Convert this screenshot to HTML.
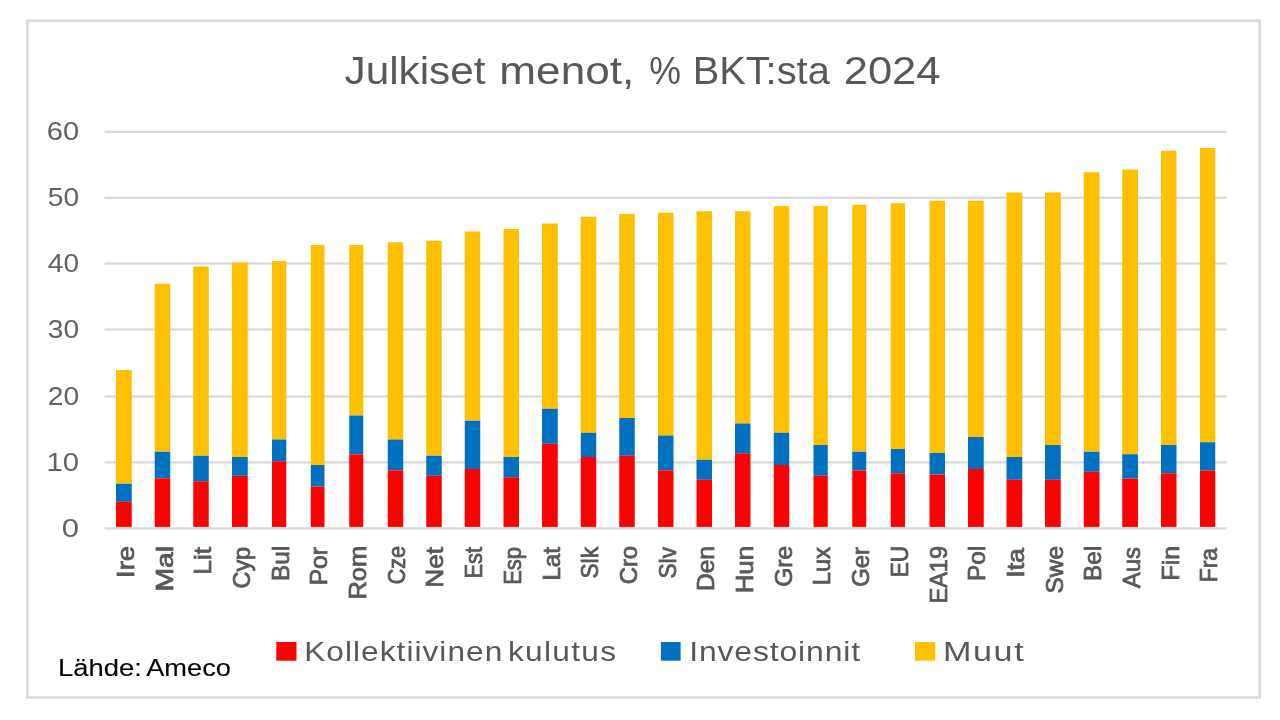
<!DOCTYPE html>
<html lang="fi"><head><meta charset="utf-8"><title>Julkiset menot, % BKT:sta 2024</title>
<style>html,body{margin:0;padding:0;background:#fff;width:1280px;height:720px;overflow:hidden}svg{display:block}text{font-family:"Liberation Sans",sans-serif}</style>
</head><body>
<svg width="1280" height="720" viewBox="0 0 1280 720">
<defs><filter id="soft" x="0" y="0" width="1280" height="720" filterUnits="userSpaceOnUse"><feGaussianBlur stdDeviation="0.55"/></filter></defs>
<rect x="0" y="0" width="1280" height="720" fill="#fff"/>
<g filter="url(#soft)">
<rect x="27.4" y="20.7" width="1232.3" height="676.8" fill="none" stroke="#D9D9D9" stroke-width="2.5"/>
<rect x="104.6" y="527.25" width="1122.2" height="2.3" fill="#D9D9D9"/>
<rect x="104.6" y="461.25" width="1122.2" height="2.3" fill="#D9D9D9"/>
<rect x="104.6" y="395.35" width="1122.2" height="2.3" fill="#D9D9D9"/>
<rect x="104.6" y="328.35" width="1122.2" height="2.3" fill="#D9D9D9"/>
<rect x="104.6" y="262.35" width="1122.2" height="2.3" fill="#D9D9D9"/>
<rect x="104.6" y="196.60" width="1122.2" height="2.3" fill="#D9D9D9"/>
<rect x="104.6" y="130.70" width="1122.2" height="2.3" fill="#D9D9D9"/>
<rect x="116.0" y="370.0" width="15.75" height="113.75" fill="#FFC000"/>
<rect x="116.0" y="483.75" width="15.75" height="18.00" fill="#0070C0"/>
<rect x="116.0" y="501.75" width="15.75" height="25.15" fill="#FF0000"/>
<rect x="154.75" y="283.75" width="15.50" height="168.00" fill="#FFC000"/>
<rect x="154.75" y="451.75" width="15.50" height="26.50" fill="#0070C0"/>
<rect x="154.75" y="478.25" width="15.50" height="48.65" fill="#FF0000"/>
<rect x="193.25" y="266.5" width="15.50" height="189.25" fill="#FFC000"/>
<rect x="193.25" y="455.75" width="15.50" height="25.50" fill="#0070C0"/>
<rect x="193.25" y="481.25" width="15.50" height="45.65" fill="#FF0000"/>
<rect x="232.0" y="262.5" width="15.75" height="194.50" fill="#FFC000"/>
<rect x="232.0" y="457.0" width="15.75" height="18.75" fill="#0070C0"/>
<rect x="232.0" y="475.75" width="15.75" height="51.15" fill="#FF0000"/>
<rect x="272.0" y="261.0" width="14.25" height="178.50" fill="#FFC000"/>
<rect x="272.0" y="439.5" width="14.25" height="21.75" fill="#0070C0"/>
<rect x="272.0" y="461.25" width="14.25" height="65.65" fill="#FF0000"/>
<rect x="310.75" y="245.0" width="13.75" height="220.00" fill="#FFC000"/>
<rect x="310.75" y="465.0" width="13.75" height="21.50" fill="#0070C0"/>
<rect x="310.75" y="486.5" width="13.75" height="40.40" fill="#FF0000"/>
<rect x="349.25" y="245.0" width="14.00" height="170.50" fill="#FFC000"/>
<rect x="349.25" y="415.5" width="14.00" height="38.75" fill="#0070C0"/>
<rect x="349.25" y="454.25" width="14.00" height="72.65" fill="#FF0000"/>
<rect x="387.75" y="242.25" width="15.50" height="197.25" fill="#FFC000"/>
<rect x="387.75" y="439.5" width="15.50" height="30.75" fill="#0070C0"/>
<rect x="387.75" y="470.25" width="15.50" height="56.65" fill="#FF0000"/>
<rect x="426.25" y="240.75" width="15.50" height="215.00" fill="#FFC000"/>
<rect x="426.25" y="455.75" width="15.50" height="20.00" fill="#0070C0"/>
<rect x="426.25" y="475.75" width="15.50" height="51.15" fill="#FF0000"/>
<rect x="464.75" y="231.5" width="15.50" height="189.25" fill="#FFC000"/>
<rect x="464.75" y="420.75" width="15.50" height="48.25" fill="#0070C0"/>
<rect x="464.75" y="469.0" width="15.50" height="57.90" fill="#FF0000"/>
<rect x="503.5" y="229.0" width="15.50" height="228.00" fill="#FFC000"/>
<rect x="503.5" y="457.0" width="15.50" height="20.25" fill="#0070C0"/>
<rect x="503.5" y="477.25" width="15.50" height="49.65" fill="#FF0000"/>
<rect x="542.0" y="223.5" width="15.75" height="185.25" fill="#FFC000"/>
<rect x="542.0" y="408.75" width="15.75" height="35.00" fill="#0070C0"/>
<rect x="542.0" y="443.75" width="15.75" height="83.15" fill="#FF0000"/>
<rect x="580.75" y="216.75" width="15.50" height="216.00" fill="#FFC000"/>
<rect x="580.75" y="432.75" width="15.50" height="24.25" fill="#0070C0"/>
<rect x="580.75" y="457.0" width="15.50" height="69.90" fill="#FF0000"/>
<rect x="619.25" y="214.0" width="15.50" height="204.00" fill="#FFC000"/>
<rect x="619.25" y="418.0" width="15.50" height="37.75" fill="#0070C0"/>
<rect x="619.25" y="455.75" width="15.50" height="71.15" fill="#FF0000"/>
<rect x="658.0" y="212.75" width="15.50" height="222.75" fill="#FFC000"/>
<rect x="658.0" y="435.5" width="15.50" height="34.75" fill="#0070C0"/>
<rect x="658.0" y="470.25" width="15.50" height="56.65" fill="#FF0000"/>
<rect x="696.5" y="211.25" width="15.50" height="248.50" fill="#FFC000"/>
<rect x="696.5" y="459.75" width="15.50" height="20.00" fill="#0070C0"/>
<rect x="696.5" y="479.75" width="15.50" height="47.15" fill="#FF0000"/>
<rect x="735.0" y="211.25" width="15.50" height="212.25" fill="#FFC000"/>
<rect x="735.0" y="423.5" width="15.50" height="29.75" fill="#0070C0"/>
<rect x="735.0" y="453.25" width="15.50" height="73.65" fill="#FF0000"/>
<rect x="773.75" y="206.0" width="15.50" height="226.75" fill="#FFC000"/>
<rect x="773.75" y="432.75" width="15.50" height="32.25" fill="#0070C0"/>
<rect x="773.75" y="465.0" width="15.50" height="61.90" fill="#FF0000"/>
<rect x="813.5" y="206.0" width="14.25" height="239.00" fill="#FFC000"/>
<rect x="813.5" y="445.0" width="14.25" height="30.75" fill="#0070C0"/>
<rect x="813.5" y="475.75" width="14.25" height="51.15" fill="#FF0000"/>
<rect x="852.25" y="204.75" width="14.00" height="247.00" fill="#FFC000"/>
<rect x="852.25" y="451.75" width="14.00" height="18.75" fill="#0070C0"/>
<rect x="852.25" y="470.5" width="14.00" height="56.40" fill="#FF0000"/>
<rect x="890.75" y="203.25" width="14.25" height="245.75" fill="#FFC000"/>
<rect x="890.75" y="449.0" width="14.25" height="24.25" fill="#0070C0"/>
<rect x="890.75" y="473.25" width="14.25" height="53.65" fill="#FF0000"/>
<rect x="929.5" y="200.75" width="15.50" height="252.25" fill="#FFC000"/>
<rect x="929.5" y="453.0" width="15.50" height="21.50" fill="#0070C0"/>
<rect x="929.5" y="474.5" width="15.50" height="52.40" fill="#FF0000"/>
<rect x="968.0" y="200.75" width="15.75" height="236.25" fill="#FFC000"/>
<rect x="968.0" y="437.0" width="15.75" height="32.00" fill="#0070C0"/>
<rect x="968.0" y="469.0" width="15.75" height="57.90" fill="#FF0000"/>
<rect x="1006.5" y="192.5" width="15.75" height="264.50" fill="#FFC000"/>
<rect x="1006.5" y="457.0" width="15.75" height="22.75" fill="#0070C0"/>
<rect x="1006.5" y="479.75" width="15.75" height="47.15" fill="#FF0000"/>
<rect x="1045.0" y="192.5" width="15.75" height="252.50" fill="#FFC000"/>
<rect x="1045.0" y="445.0" width="15.75" height="34.75" fill="#0070C0"/>
<rect x="1045.0" y="479.75" width="15.75" height="47.15" fill="#FF0000"/>
<rect x="1083.75" y="172.25" width="15.75" height="279.50" fill="#FFC000"/>
<rect x="1083.75" y="451.75" width="15.75" height="20.00" fill="#0070C0"/>
<rect x="1083.75" y="471.75" width="15.75" height="55.15" fill="#FF0000"/>
<rect x="1122.25" y="169.5" width="15.75" height="284.75" fill="#FFC000"/>
<rect x="1122.25" y="454.25" width="15.75" height="24.25" fill="#0070C0"/>
<rect x="1122.25" y="478.5" width="15.75" height="48.40" fill="#FF0000"/>
<rect x="1161.0" y="150.75" width="15.50" height="294.25" fill="#FFC000"/>
<rect x="1161.0" y="445.0" width="15.50" height="28.25" fill="#0070C0"/>
<rect x="1161.0" y="473.25" width="15.50" height="53.65" fill="#FF0000"/>
<rect x="1200.0" y="148.0" width="15.25" height="294.25" fill="#FFC000"/>
<rect x="1200.0" y="442.25" width="15.25" height="28.25" fill="#0070C0"/>
<rect x="1200.0" y="470.5" width="15.25" height="56.40" fill="#FF0000"/>
<text x="344.50" y="83.75" font-size="38.4" fill="#595959" textLength="141.01" lengthAdjust="spacingAndGlyphs">Julkiset</text>
<text x="499.35" y="83.75" font-size="38.4" fill="#595959" textLength="134.88" lengthAdjust="spacingAndGlyphs">menot,</text>
<text x="649.36" y="83.75" font-size="38.4" fill="#595959" textLength="31.71" lengthAdjust="spacingAndGlyphs">%</text>
<text x="692.66" y="83.75" font-size="38.4" fill="#595959" textLength="137.11" lengthAdjust="spacingAndGlyphs">BKT:sta</text>
<text x="843.68" y="83.75" font-size="38.4" fill="#595959" textLength="96.88" lengthAdjust="spacingAndGlyphs">2024</text>
<text transform="translate(304.23,661.20) scale(1.13,1)" font-size="28" fill="#595959" textLength="175.23" lengthAdjust="spacing">Kollektiivinen</text>
<text transform="translate(507.94,661.20) scale(1.13,1)" font-size="28" fill="#595959" textLength="95.60" lengthAdjust="spacing">kulutus</text>
<text transform="translate(689.17,661.20) scale(1.14,1)" font-size="28" fill="#595959" textLength="149.95" lengthAdjust="spacing">Investoinnit</text>
<text transform="translate(943.09,661.20) scale(1.22,1)" font-size="28" fill="#595959" textLength="66.02" lengthAdjust="spacing">Muut</text>
<text x="58.03" y="675.60" font-size="23.7" fill="#000" stroke="#000" stroke-width="0.1" textLength="83.81" lengthAdjust="spacingAndGlyphs">Lähde:</text>
<text x="146.18" y="675.60" font-size="23.7" fill="#000" stroke="#000" stroke-width="0.1" textLength="84.76" lengthAdjust="spacingAndGlyphs">Ameco</text>
<text x="61.87" y="536.50" font-size="25" fill="#626262" textLength="17.33" lengthAdjust="spacingAndGlyphs">0</text>
<text x="46.63" y="470.50" font-size="25" fill="#626262" textLength="32.48" lengthAdjust="spacingAndGlyphs">10</text>
<text x="47.79" y="404.60" font-size="25" fill="#626262" textLength="31.28" lengthAdjust="spacingAndGlyphs">20</text>
<text x="47.79" y="337.60" font-size="25" fill="#626262" textLength="31.28" lengthAdjust="spacingAndGlyphs">30</text>
<text x="47.86" y="271.60" font-size="25" fill="#626262" textLength="31.20" lengthAdjust="spacingAndGlyphs">40</text>
<text x="47.79" y="205.85" font-size="25" fill="#626262" textLength="31.28" lengthAdjust="spacingAndGlyphs">50</text>
<text x="46.75" y="139.95" font-size="25" fill="#626262" textLength="32.36" lengthAdjust="spacingAndGlyphs">60</text>
<text transform="translate(133.80,545.90) rotate(-90)" x="0" y="0" font-size="23.7" fill="#595959" stroke="#595959" stroke-width="0.8" text-anchor="end" textLength="32.10" lengthAdjust="spacingAndGlyphs">Ire</text>
<text transform="translate(172.50,545.92) rotate(-90)" x="0" y="0" font-size="23.7" fill="#595959" stroke="#595959" stroke-width="0.8" text-anchor="end" textLength="45.71" lengthAdjust="spacingAndGlyphs">Mal</text>
<text transform="translate(211.20,547.00) rotate(-90)" x="0" y="0" font-size="23.7" fill="#595959" stroke="#595959" stroke-width="0.8" text-anchor="end" textLength="27.66" lengthAdjust="spacingAndGlyphs">Lit</text>
<text transform="translate(249.90,546.94) rotate(-90)" x="0" y="0" font-size="23.7" fill="#595959" stroke="#595959" stroke-width="0.8" text-anchor="end" textLength="41.56" lengthAdjust="spacingAndGlyphs">Cyp</text>
<text transform="translate(288.60,545.94) rotate(-90)" x="0" y="0" font-size="23.7" fill="#595959" stroke="#595959" stroke-width="0.8" text-anchor="end" textLength="35.13" lengthAdjust="spacingAndGlyphs">Bul</text>
<text transform="translate(327.30,547.00) rotate(-90)" x="0" y="0" font-size="23.7" fill="#595959" stroke="#595959" stroke-width="0.8" text-anchor="end" textLength="38.34" lengthAdjust="spacingAndGlyphs">Por</text>
<text transform="translate(366.00,545.94) rotate(-90)" x="0" y="0" font-size="23.7" fill="#595959" stroke="#595959" stroke-width="0.8" text-anchor="end" textLength="53.67" lengthAdjust="spacingAndGlyphs">Rom</text>
<text transform="translate(404.70,545.94) rotate(-90)" x="0" y="0" font-size="23.7" fill="#595959" stroke="#595959" stroke-width="0.8" text-anchor="end" textLength="38.34" lengthAdjust="spacingAndGlyphs">Cze</text>
<text transform="translate(443.40,547.00) rotate(-90)" x="0" y="0" font-size="23.7" fill="#595959" stroke="#595959" stroke-width="0.8" text-anchor="end" textLength="40.81" lengthAdjust="spacingAndGlyphs">Net</text>
<text transform="translate(482.10,547.00) rotate(-90)" x="0" y="0" font-size="23.7" fill="#595959" stroke="#595959" stroke-width="0.8" text-anchor="end" textLength="31.58" lengthAdjust="spacingAndGlyphs">Est</text>
<text transform="translate(520.80,546.92) rotate(-90)" x="0" y="0" font-size="23.7" fill="#595959" stroke="#595959" stroke-width="0.8" text-anchor="end" textLength="37.90" lengthAdjust="spacingAndGlyphs">Esp</text>
<text transform="translate(559.50,547.00) rotate(-90)" x="0" y="0" font-size="23.7" fill="#595959" stroke="#595959" stroke-width="0.8" text-anchor="end" textLength="33.57" lengthAdjust="spacingAndGlyphs">Lat</text>
<text transform="translate(598.20,547.00) rotate(-90)" x="0" y="0" font-size="23.7" fill="#595959" stroke="#595959" stroke-width="0.8" text-anchor="end" textLength="31.54" lengthAdjust="spacingAndGlyphs">Slk</text>
<text transform="translate(636.90,545.92) rotate(-90)" x="0" y="0" font-size="23.7" fill="#595959" stroke="#595959" stroke-width="0.8" text-anchor="end" textLength="38.37" lengthAdjust="spacingAndGlyphs">Cro</text>
<text transform="translate(675.60,547.00) rotate(-90)" x="0" y="0" font-size="23.7" fill="#595959" stroke="#595959" stroke-width="0.8" text-anchor="end" textLength="31.54" lengthAdjust="spacingAndGlyphs">Slv</text>
<text transform="translate(714.30,545.95) rotate(-90)" x="0" y="0" font-size="23.7" fill="#595959" stroke="#595959" stroke-width="0.8" text-anchor="end" textLength="45.10" lengthAdjust="spacingAndGlyphs">Den</text>
<text transform="translate(753.00,545.94) rotate(-90)" x="0" y="0" font-size="23.7" fill="#595959" stroke="#595959" stroke-width="0.8" text-anchor="end" textLength="47.42" lengthAdjust="spacingAndGlyphs">Hun</text>
<text transform="translate(791.70,545.96) rotate(-90)" x="0" y="0" font-size="23.7" fill="#595959" stroke="#595959" stroke-width="0.8" text-anchor="end" textLength="40.87" lengthAdjust="spacingAndGlyphs">Gre</text>
<text transform="translate(830.40,547.00) rotate(-90)" x="0" y="0" font-size="23.7" fill="#595959" stroke="#595959" stroke-width="0.8" text-anchor="end" textLength="38.34" lengthAdjust="spacingAndGlyphs">Lux</text>
<text transform="translate(869.10,547.00) rotate(-90)" x="0" y="0" font-size="23.7" fill="#595959" stroke="#595959" stroke-width="0.8" text-anchor="end" textLength="39.79" lengthAdjust="spacingAndGlyphs">Ger</text>
<text transform="translate(907.80,545.91) rotate(-90)" x="0" y="0" font-size="23.7" fill="#595959" stroke="#595959" stroke-width="0.8" text-anchor="end" textLength="31.45" lengthAdjust="spacingAndGlyphs">EU</text>
<text transform="translate(946.50,545.96) rotate(-90)" x="0" y="0" font-size="23.7" fill="#595959" stroke="#595959" stroke-width="0.8" text-anchor="end" textLength="57.61" lengthAdjust="spacingAndGlyphs">EA19</text>
<text transform="translate(985.20,545.94) rotate(-90)" x="0" y="0" font-size="23.7" fill="#595959" stroke="#595959" stroke-width="0.8" text-anchor="end" textLength="35.13" lengthAdjust="spacingAndGlyphs">Pol</text>
<text transform="translate(1023.90,547.94) rotate(-90)" x="0" y="0" font-size="23.7" fill="#595959" stroke="#595959" stroke-width="0.8" text-anchor="end" textLength="29.91" lengthAdjust="spacingAndGlyphs">Ita</text>
<text transform="translate(1062.60,545.95) rotate(-90)" x="0" y="0" font-size="23.7" fill="#595959" stroke="#595959" stroke-width="0.8" text-anchor="end" textLength="47.59" lengthAdjust="spacingAndGlyphs">Swe</text>
<text transform="translate(1101.30,545.94) rotate(-90)" x="0" y="0" font-size="23.7" fill="#595959" stroke="#595959" stroke-width="0.8" text-anchor="end" textLength="35.13" lengthAdjust="spacingAndGlyphs">Bel</text>
<text transform="translate(1140.00,546.97) rotate(-90)" x="0" y="0" font-size="23.7" fill="#595959" stroke="#595959" stroke-width="0.8" text-anchor="end" textLength="41.31" lengthAdjust="spacingAndGlyphs">Aus</text>
<text transform="translate(1178.70,545.91) rotate(-90)" x="0" y="0" font-size="23.7" fill="#595959" stroke="#595959" stroke-width="0.8" text-anchor="end" textLength="34.50" lengthAdjust="spacingAndGlyphs">Fin</text>
<text transform="translate(1217.40,547.99) rotate(-90)" x="0" y="0" font-size="23.7" fill="#595959" stroke="#595959" stroke-width="0.8" text-anchor="end" textLength="34.30" lengthAdjust="spacingAndGlyphs">Fra</text>
<rect x="276.3" y="642" width="20.2" height="18.7" fill="#FF0000"/>
<rect x="660.9" y="642" width="19.7" height="18.7" fill="#0070C0"/>
<rect x="915" y="642" width="20.3" height="18.7" fill="#FFC000"/>
</g>
</svg>
</body></html>
